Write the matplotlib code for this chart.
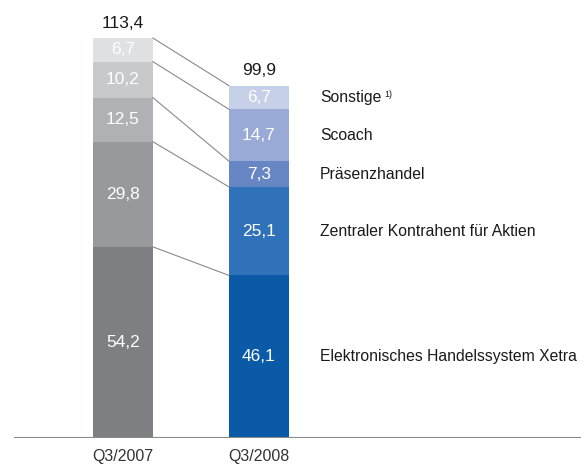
import matplotlib.pyplot as plt

categories = ["Q3/2007", "Q3/2008"]
segments = ["Elektronisches Handelssystem Xetra", "Zentraler Kontrahent für Aktien",
            "Präsenzhandel", "Scoach", "Sonstige"]
values_2007 = [54.2, 29.8, 12.5, 10.2, 6.7]
values_2008 = [46.1, 25.1, 7.3, 14.7, 6.7]
totals = [113.4, 99.9]

grays = ["#7e7f83", "#98999c", "#b0b1b4", "#c8c9cb", "#e0e1e3"]
blues = ["#0a5aa8", "#2f72b9", "#6787c4", "#98aad5", "#c6d0e8"]

plt.rcParams["font.family"] = ["Liberation Sans", "DejaVu Sans"]

fig = plt.figure(figsize=(5.81, 4.68), dpi=100)
ax = fig.add_axes([14 / 581, 30 / 468, 1 - 14 / 581, 438 / 468])
ax.set_xlim(-0.801, 3.368)
ax.set_ylim(0, 438 / 3.527)
w = 0.441

def fmt(v):
    return f"{v:.1f}".replace(".", ",")

tops = []
for i, (vals, cols) in enumerate([(values_2007, grays), (values_2008, blues)]):
    bottom = 0
    t = []
    for v, c in zip(vals, cols):
        ax.bar(i, v, w, bottom=bottom, color=c, linewidth=0)
        ax.text(i, bottom + v / 2, fmt(v), ha="center", va="center",
                color="white", fontsize=12.5)
        bottom += v
        t.append(bottom)
    tops.append(t)
    ax.text(i, totals[i] + 4.2, fmt(totals[i]), ha="center", va="center",
            color="#1a1a1a", fontsize=12.5)

# connector lines between segment tops
for a, b in zip(tops[0], tops[1]):
    ax.plot([w / 2, 1 - w / 2], [a, b], color="#8a8a8a", lw=0.8)

# segment labels right of the 2008 bar
bottom = 0
for v, name in zip(values_2008, segments):
    ax.text(1.449, bottom + v / 2, name, ha="left", va="center",
            color="#1a1a1a", fontsize=11.3)
    bottom += v
ax.text(1.449 + 0.475, sum(values_2008) - 6.7 / 2 + 0.7, "1)", fontsize=6.5,
        color="#1a1a1a", ha="left", va="center")

ax.axhline(0, color="#8a8a8a", lw=1.5)
for sp in ax.spines.values():
    sp.set_visible(False)
ax.set_yticks([])
ax.set_xticks([0, 1])
ax.set_xticklabels(categories, fontsize=11.5, color="#333333")
ax.tick_params(axis="x", length=0, pad=8)

fig.savefig("out.png", dpi=100)
